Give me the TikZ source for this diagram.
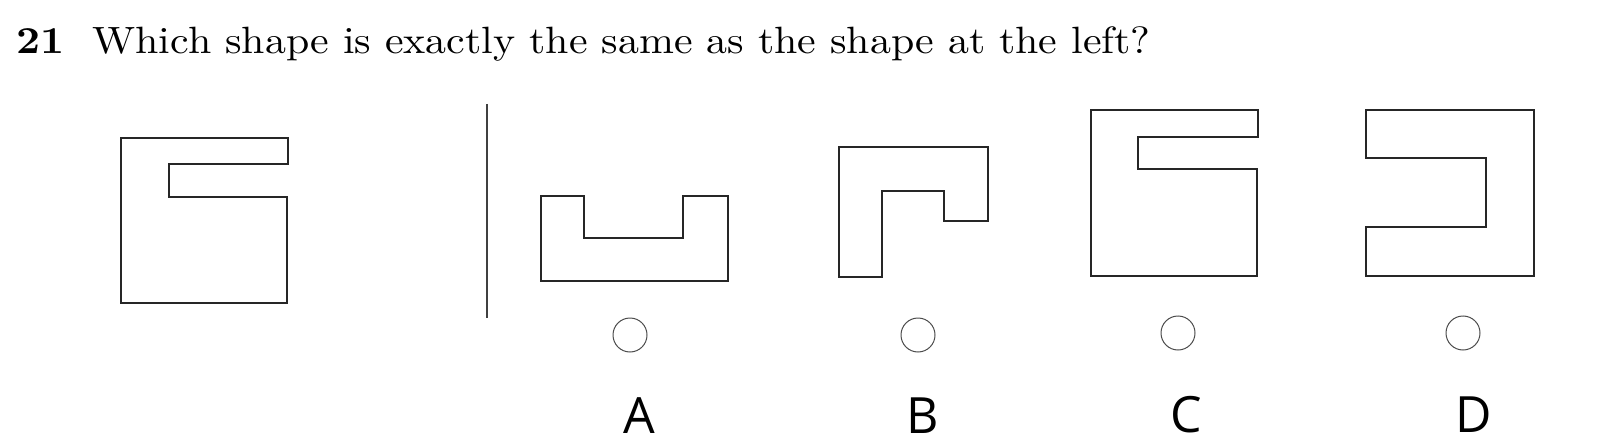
\documentclass[tikz,border=0pt]{standalone}
\usepackage{fontspec}
\newfontfamily\handfont{Open Sans}
\begin{document}
\begin{tikzpicture}[x=0.5pt,y=-0.5pt,
  shapeline/.style={draw=black!85,line width=1.2pt,line join=miter},
  bubble/.style={draw=black!70,line width=0.5pt},
  divider/.style={draw=black!75,line width=0.7pt},
  answer/.style={inner sep=0pt,anchor=base,font=\handfont\fontsize{25}{28}\selectfont}]
\useasboundingbox (0,0) rectangle (1600,444);
% title
\node[inner sep=0pt,anchor=base west] (title) at (16,54)
  {\resizebox{567pt}{13.4pt}{\textbf{21}\ \ Which shape is exactly the same as the shape at the left?}};
% reference shape
\draw[shapeline] (121,138) -- (288,138) -- (288,164) -- (169,164) -- (169,197) -- (287,197) -- (287,303) -- (121,303) -- cycle;
% divider
\draw[divider] (487,104) -- (487,318);
% A
\draw[shapeline] (541,196) -- (584,196) -- (584,238) -- (683,238) -- (683,196) -- (728,196) -- (728,281) -- (541,281) -- cycle;
% B
\draw[shapeline] (839,147) -- (988,147) -- (988,221) -- (944,221) -- (944,191) -- (882,191) -- (882,277) -- (839,277) -- cycle;
% C
\draw[shapeline] (1091,110) -- (1258,110) -- (1258,137) -- (1138,137) -- (1138,169) -- (1257,169) -- (1257,276) -- (1091,276) -- cycle;
% D
\draw[shapeline] (1366,110) -- (1534,110) -- (1534,276) -- (1366,276) -- (1366,227) -- (1486,227) -- (1486,158) -- (1366,158) -- cycle;
% bubbles
\draw[bubble] (630,335) circle[radius=17];
\draw[bubble] (918,335) circle[radius=17];
\draw[bubble] (1178,333) circle[radius=17];
\draw[bubble] (1463,333) circle[radius=17];
% handwritten labels
\node[answer] (la) at (639,433) {A};
\node[answer] (lb) at (923,433) {B};
\node[answer] (lc) at (1186,432) {C};
\node[answer] (ld) at (1474,432) {D};
\end{tikzpicture}
\end{document}
